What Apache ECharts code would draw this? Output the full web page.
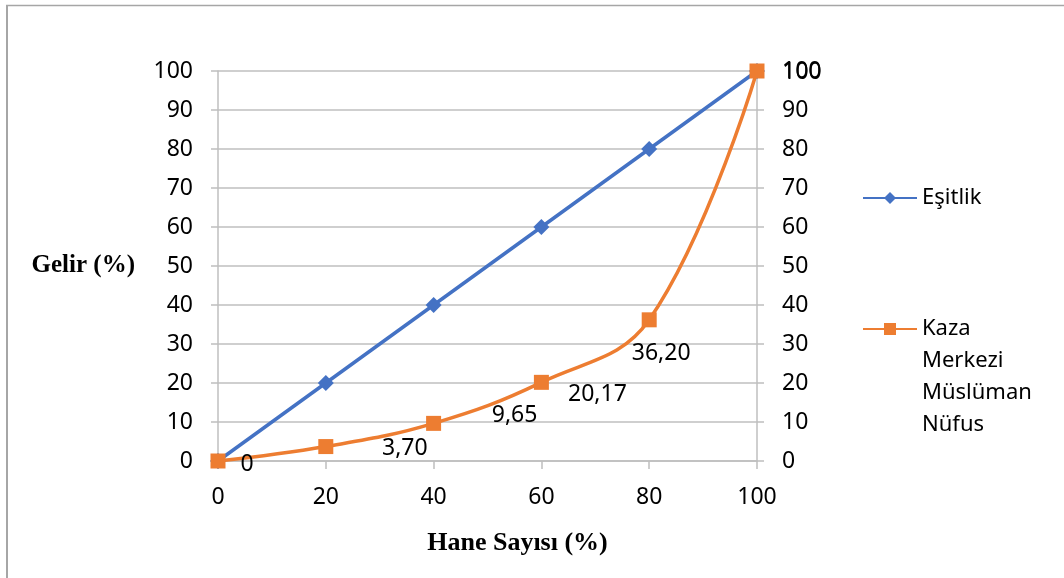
<!DOCTYPE html>
<html>
<head>
<meta charset="utf-8">
<script src="https://cdn.jsdelivr.net/npm/echarts@6/dist/echarts.min.js"></script>
<style>
html,body{margin:0;padding:0;background:#fff;}
#chart{width:1064px;height:578px;}
</style>
</head>
<body>
<div id="chart"></div>
<script>
var xValues = [0, 20, 40, 60, 80, 100];
var esitlik = [0, 20, 40, 60, 80, 100];
var kaza = [0, 3.70, 9.65, 20.17, 36.20, 100];
var seriesNames = ['Eşitlik', 'Kaza Merkezi Müslüman Nüfus'];
var xTitle = 'Hane Sayısı (%)';
var yTitle = 'Gelir (%)';

// label placement offsets (style only)
var labelOffsets = [[29, 3], [79, 2], [81, -8], [56, 12], [12, 34], [45, 1]];

var FONT = 'Noto Sans';
var GRAY = '#BFBFBF';
var FS = 23;

function fmt(v) {
  return Number.isInteger(v) ? String(v) : v.toFixed(2).replace('.', ',');
}

var chart = echarts.init(document.getElementById('chart'));
chart.setOption({
  animation: false,
  backgroundColor: '#fff',
  graphic: [
    {type: 'line', shape: {x1: 6, y1: 5.5, x2: 1064, y2: 5.5}, style: {stroke: '#A6A6A6', lineWidth: 1.5}},
    {type: 'line', shape: {x1: 7, y1: 5, x2: 7, y2: 578}, style: {stroke: '#A6A6A6', lineWidth: 2}}
  ],
  grid: {left: 218, right: 307, top: 71, bottom: 117, containLabel: false},
  legend: [
    {
      data: [seriesNames[0]], left: 862, top: 182, padding: 0,
      itemWidth: 54, itemHeight: 15, itemGap: 5,
      textStyle: {fontFamily: FONT, fontSize: 22, color: '#000', lineHeight: 32}
    },
    {
      data: [seriesNames[1]], left: 862, top: 217, padding: 0,
      itemWidth: 54, itemHeight: 15, itemGap: 5,
      // three blank lines above so the first word sits level with the icon
      formatter: function (n) { return '\n\n\n' + n.split(' ').join('\n'); },
      textStyle: {fontFamily: FONT, fontSize: 22, color: '#000', lineHeight: 32}
    }
  ],
  xAxis: {
    type: 'value', min: 0, max: 100, interval: 20,
    name: xTitle, nameLocation: 'middle', nameGap: 69,
    nameTextStyle: {fontFamily: 'Liberation Serif', fontWeight: 'bold', fontSize: 26, color: '#000', padding: [0, 0, 0, 60]},
    axisLine: {show: true, lineStyle: {color: GRAY, width: 1.5}},
    axisTick: {show: true, length: 8, lineStyle: {color: GRAY, width: 1.5}},
    splitLine: {show: false},
    axisLabel: {fontFamily: FONT, fontSize: FS, color: '#000', margin: 25}
  },
  yAxis: [
    {
      type: 'value', min: 0, max: 100, interval: 10, position: 'left',
      name: yTitle, nameLocation: 'middle', nameGap: 83, nameRotate: 0,
      nameTextStyle: {fontFamily: 'Liberation Serif', fontWeight: 'bold', fontSize: 25, color: '#000'},
      axisLine: {show: true, lineStyle: {color: GRAY, width: 1.5}},
      axisTick: {show: true, length: 7, lineStyle: {color: GRAY, width: 1.5}},
      splitLine: {show: true, lineStyle: {color: GRAY, width: 1.5}},
      axisLabel: {fontFamily: FONT, fontSize: FS, color: '#000', margin: 25}
    },
    {
      type: 'value', min: 0, max: 100, interval: 10, position: 'right',
      axisLine: {show: true, lineStyle: {color: GRAY, width: 1.5}},
      axisTick: {show: true, length: 7, lineStyle: {color: GRAY, width: 1.5}},
      splitLine: {show: false},
      axisLabel: {fontFamily: FONT, fontSize: FS, color: '#000', margin: 25}
    }
  ],
  series: [
    {
      name: seriesNames[0], type: 'line', yAxisIndex: 0,
      data: xValues.map(function (x, i) { return [x, esitlik[i]]; }),
      symbol: 'diamond', symbolSize: 16, showAllSymbol: true,
      lineStyle: {color: '#4472C4', width: 3.5},
      itemStyle: {color: '#4472C4'},
      z: 2
    },
    {
      name: seriesNames[1], type: 'line', yAxisIndex: 0, smooth: 0.4,
      data: xValues.map(function (x, i) {
        return {
          value: [x, kaza[i]],
          label: {offset: labelOffsets[i]}
        };
      }),
      symbol: 'rect', symbolSize: 15, showAllSymbol: true,
      lineStyle: {color: '#ED7D31', width: 3.5},
      itemStyle: {color: '#ED7D31'},
      label: {
        show: true, position: 'inside', align: 'center', verticalAlign: 'middle',
        fontFamily: FONT, fontSize: FS, color: '#000',
        formatter: function (p) { return fmt(p.value[1]); }
      },
      z: 3
    }
  ]
});
</script>
</body>
</html>
